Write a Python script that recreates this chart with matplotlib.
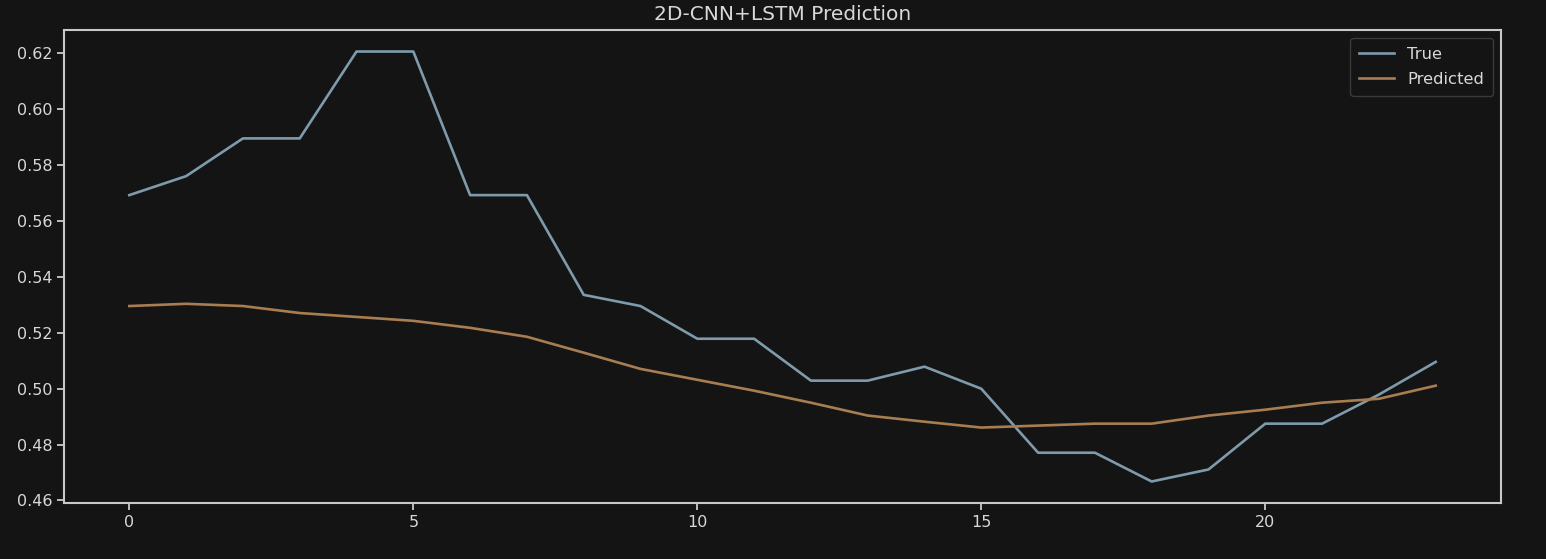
import matplotlib
matplotlib.use('Agg')
import matplotlib.pyplot as plt
import numpy as np

# values
steps = list(range(24))
true_vals = [0.5693, 0.5761, 0.5896, 0.5896, 0.6207, 0.6207, 0.5693, 0.5693,
             0.5336, 0.5296, 0.5179, 0.5179, 0.5029, 0.5029, 0.5079, 0.5000,
             0.4771, 0.4771, 0.4668, 0.4711, 0.4875, 0.4875, 0.4979, 0.5096]
pred_vals = [0.5296, 0.5304, 0.5296, 0.5271, 0.5257, 0.5243, 0.5218, 0.5186,
             0.5129, 0.5071, 0.5032, 0.4993, 0.4950, 0.4904, 0.4882, 0.4861,
             0.4868, 0.4875, 0.4875, 0.4904, 0.4925, 0.4950, 0.4964, 0.5011]

bg = '#141414'
fg = '#d8d8d8'

plt.rcParams['font.family'] = ['DejaVu Sans']
fig = plt.figure(figsize=(15.46, 5.59), dpi=100, facecolor=bg)
ax = fig.add_axes([0.0414, 0.1002, 0.9295, 0.8461])
ax.set_facecolor(bg)

ax.plot(steps, true_vals, color='#7f9bab', lw=1.9, label='True')
ax.plot(steps, pred_vals, color='#a87d52', lw=1.9, label='Predicted')

ax.set_title('2D-CNN+LSTM Prediction', color=fg, fontsize=14.5, pad=7)
ax.set_yticks([0.46, 0.48, 0.50, 0.52, 0.54, 0.56, 0.58, 0.60, 0.62])
ax.set_xticks([0, 5, 10, 15, 20])
ax.tick_params(colors=fg, labelsize=11.5, length=5, width=1.2)
for s in ax.spines.values():
    s.set_color('#c8c8c8')
    s.set_linewidth(1.5)

leg = ax.legend(loc='upper right', fontsize=11.8, facecolor=bg, edgecolor='#3a3a3a',
                labelcolor=fg, framealpha=1, borderpad=0.55, labelspacing=0.6,
                handlelength=2.1)

fig.savefig('out.png', dpi=100, facecolor=bg)
